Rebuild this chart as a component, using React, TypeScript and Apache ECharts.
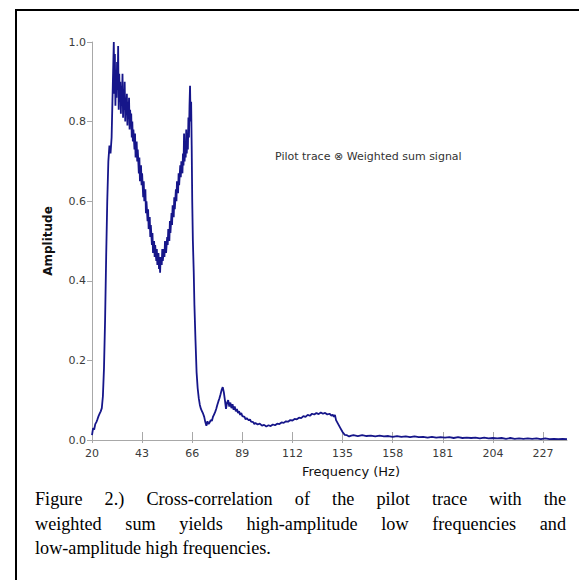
import React, { useEffect, useRef } from "react";
import * as echarts from "echarts";

// Frequency (Hz) / amplitude pairs, per region of the trace
const lowRise: [number, number][] = [
  [20, 0.012], [20.5, 0.03], [21, 0.026], [21.5, 0.04], [22, 0.045], [22.5, 0.052], [23, 0.06],
  [23.5, 0.066], [24, 0.072], [24.5, 0.08], [25, 0.11], [25.5, 0.18], [26, 0.3], [26.5, 0.46],
  [27, 0.6], [27.5, 0.7], [28, 0.74], [28.5, 0.72], [29, 0.76], [29.5, 0.88],
];
const mainPeak: [number, number][] = [
  [30, 1.0], [30.25, 0.87], [30.5, 0.97], [30.75, 0.84], [31, 0.93], [31.25, 0.86], [31.5, 0.95],
  [31.75, 0.88], [32, 0.99], [32.25, 0.83], [32.5, 0.92], [32.75, 0.85], [33, 0.9], [33.25, 0.82],
  [33.5, 0.89], [33.75, 0.84], [34, 0.92], [34.25, 0.81], [34.5, 0.88], [34.75, 0.83], [35, 0.9],
  [35.25, 0.8], [35.5, 0.86], [35.75, 0.82], [36, 0.87], [36.25, 0.79], [36.5, 0.85], [36.75, 0.81],
  [37, 0.86], [37.25, 0.78], [37.5, 0.83], [37.75, 0.79], [38, 0.82], [38.25, 0.76], [38.5, 0.8],
  [38.75, 0.75], [39, 0.78],
];
const trough: [number, number][] = [
  [39.5, 0.73], [39.75, 0.77], [40, 0.71], [40.5, 0.75], [40.75, 0.7], [41, 0.73], [41.5, 0.67],
  [41.75, 0.71], [42, 0.65], [42.5, 0.69], [42.75, 0.64], [43, 0.67], [43.5, 0.61], [43.75, 0.65],
  [44, 0.6], [44.5, 0.63], [44.75, 0.57], [45, 0.6], [45.5, 0.55], [45.75, 0.58], [46, 0.53],
  [46.5, 0.56], [46.75, 0.51], [47, 0.54], [47.5, 0.49], [47.75, 0.52], [48, 0.47], [48.5, 0.5],
  [48.75, 0.46], [49, 0.49], [49.5, 0.45], [49.75, 0.48], [50, 0.44], [50.5, 0.47], [50.75, 0.43],
  [51, 0.46], [51.25, 0.42], [51.5, 0.46], [52, 0.44], [52.25, 0.48], [52.5, 0.45], [53, 0.48],
  [53.25, 0.46], [53.5, 0.5], [54, 0.47], [54.5, 0.51], [54.75, 0.49], [55, 0.53], [55.5, 0.5],
  [55.75, 0.55], [56, 0.52], [56.5, 0.57], [56.75, 0.54], [57, 0.59], [57.5, 0.56], [57.75, 0.61],
  [58, 0.58], [58.5, 0.63], [58.75, 0.6], [59, 0.65], [59.5, 0.62], [59.75, 0.67], [60, 0.64],
  [60.5, 0.69], [60.75, 0.66], [61, 0.7], [61.5, 0.67], [61.75, 0.72], [62, 0.69], [62.25, 0.77],
  [62.5, 0.7], [62.75, 0.74], [63, 0.71], [63.25, 0.78], [63.5, 0.72], [63.75, 0.77], [64, 0.73],
  [64.25, 0.81], [64.5, 0.76], [64.75, 0.84], [65, 0.89], [65.25, 0.8], [65.5, 0.85], [65.75, 0.74],
  [66, 0.6],
];
const sideLobe: [number, number][] = [
  [66.3, 0.5], [66.7, 0.42], [67, 0.34], [67.5, 0.25], [68, 0.17], [68.5, 0.13], [69, 0.105],
  [69.5, 0.088], [70, 0.078], [70.5, 0.072], [71, 0.066], [71.5, 0.058], [72, 0.045], [72.5, 0.036],
  [73, 0.047], [73.5, 0.04], [74, 0.044], [74.5, 0.05], [75, 0.048], [75.5, 0.058], [76, 0.064],
  [76.5, 0.07], [77, 0.078], [77.5, 0.088], [78, 0.097], [78.5, 0.105], [79, 0.115], [79.5, 0.126],
  [80, 0.133], [80.5, 0.12], [81, 0.1], [81.5, 0.078], [82, 0.094], [82.5, 0.1], [83, 0.084],
  [83.5, 0.094], [84, 0.08], [84.5, 0.09], [85, 0.076], [85.5, 0.084], [86, 0.072], [86.5, 0.078],
  [87, 0.068], [87.5, 0.072], [88, 0.063], [88.5, 0.068], [89, 0.06], [90, 0.058], [90.5, 0.052],
  [91, 0.055], [92, 0.049], [92.5, 0.052], [93, 0.046], [94, 0.045], [94.5, 0.04], [95, 0.043],
  [96, 0.039], [97, 0.041], [98, 0.036], [99, 0.038], [100, 0.034],
];
const hump: [number, number][] = [
  [101, 0.037], [102, 0.035], [103, 0.039], [104, 0.037], [105, 0.041], [106, 0.04], [107, 0.044],
  [108, 0.043], [109, 0.047], [110, 0.046], [111, 0.05], [112, 0.049], [113, 0.053], [114, 0.052],
  [115, 0.056], [116, 0.055], [117, 0.06], [118, 0.058], [119, 0.063], [120, 0.061], [121, 0.066],
  [122, 0.064], [123, 0.068], [124, 0.065], [125, 0.069], [126, 0.066], [127, 0.068], [128, 0.064],
  [129, 0.066], [130, 0.061], [130.5, 0.064], [131, 0.058], [131.5, 0.063], [132, 0.05], [133, 0.04],
  [134, 0.03], [135, 0.02], [136, 0.013], [137, 0.012], [138, 0.009], [139, 0.011],
];
const tail: [number, number][] = [
  [140, 0.012], [142, 0.01], [144, 0.012], [146, 0.01], [148, 0.011], [150, 0.009], [152, 0.011],
  [154, 0.009], [156, 0.01], [158, 0.008], [160, 0.01], [162, 0.008], [164, 0.009], [166, 0.007],
  [168, 0.009], [170, 0.007], [172, 0.008], [174, 0.006], [176, 0.008], [178, 0.006], [180, 0.007],
  [182, 0.006], [184, 0.007], [186, 0.005], [188, 0.007], [190, 0.005], [192, 0.006], [194, 0.005],
  [196, 0.006], [198, 0.004], [200, 0.006], [202, 0.004], [204, 0.005], [206, 0.004], [208, 0.005],
  [210, 0.003], [212, 0.005], [214, 0.003], [216, 0.004], [218, 0.003], [220, 0.004], [222, 0.003],
  [224, 0.004], [226, 0.002], [228, 0.004], [230, 0.002], [232, 0.003], [234, 0.002], [236, 0.003],
  [238, 0.002],
];

const xTicks = [20, 43, 66, 89, 112, 135, 158, 181, 204, 227];
const yTicks = [0, 0.2, 0.4, 0.6, 0.8, 1.0];
const seriesLabel = "Pilot trace \u2297 Weighted sum signal";
const xName = "Frequency (Hz)";
const yName = "Amplitude";
const captionLines = [
  "Figure 2.) Cross-correlation of the pilot trace with the",
  "weighted sum yields high-amplitude low frequencies and",
  "low-amplitude high frequencies.",
];

const SANS = "'DejaVu Sans', Verdana, sans-serif";
const SERIF = "'Liberation Serif', 'Times New Roman', serif";

function captionGraphics(): any[] {
  const fontSize = 18.2;
  const left = 35;
  const right = 566;
  const baselines = [508, 532.5, 557];
  const canvas = document.createElement("canvas");
  const ctx = canvas.getContext("2d")!;
  ctx.font = `${fontSize}px ${SERIF}`;
  const out: any[] = [];
  captionLines.forEach((line, li) => {
    const words = line.split(" ");
    const widths = words.map((w) => ctx.measureText(w).width);
    const total = widths.reduce((a, b) => a + b, 0);
    const last = li === captionLines.length - 1;
    const gap = last ? ctx.measureText(" ").width : (right - left - total) / (words.length - 1);
    let x = left;
    words.forEach((w, i) => {
      out.push({
        type: "text",
        x,
        y: baselines[li],
        style: {
          text: w,
          font: `${fontSize}px ${SERIF}`,
          fill: "#000",
          textAlign: "left",
          textVerticalAlign: "bottom",
        },
      });
      x += widths[i] + gap;
    });
  });
  return out;
}

export default function App() {
  const ref = useRef<HTMLDivElement>(null);
  useEffect(() => {
    if (!ref.current) return;
    const chart = echarts.init(ref.current, undefined, { renderer: "svg" });
    const data = [...lowRise, ...mainPeak, ...trough, ...sideLobe, ...hump, ...tail];
    const axisColor = "#a8a8a8";
    const labelColor = "#3a3a3a";
    chart.setOption({
      animation: false,
      backgroundColor: "#fff",
      grid: { left: 92, top: 42, right: 12, bottom: 140, containLabel: false },
      xAxis: [
        {
          type: "value",
          min: 20,
          max: 238,
          axisLine: { show: true, lineStyle: { color: axisColor, width: 1 } },
          axisTick: { show: true, inside: true, length: 8, customValues: xTicks, lineStyle: { color: axisColor } },
          axisLabel: {
            customValues: xTicks,
            margin: 8,
            color: labelColor,
            fontFamily: SANS,
            fontSize: 11,
          },
          splitLine: { show: false },
        },
        {
          type: "value",
          min: 20,
          max: 238,
          position: "bottom",
          offset: 0,
          axisLine: { show: false },
          axisTick: { show: true, inside: false, length: 3, customValues: xTicks, lineStyle: { color: axisColor } },
          axisLabel: { show: false },
          splitLine: { show: false },
        },
      ],
      yAxis: {
        type: "value",
        min: 0,
        max: 1,
        axisLine: { show: true, lineStyle: { color: axisColor, width: 1 } },
        axisTick: { show: true, inside: false, length: 5, customValues: yTicks, lineStyle: { color: axisColor } },
        axisLabel: {
          customValues: yTicks,
          margin: 6,
          color: labelColor,
          fontFamily: SANS,
          fontSize: 11,
          formatter: (v: number) => v.toFixed(1),
        },
        splitLine: { show: false },
      },
      series: [
        {
          type: "line",
          data,
          showSymbol: false,
          symbol: "none",
          lineStyle: { color: "#16168a", width: 1.8 },
          xAxisIndex: 0,
          yAxisIndex: 0,
        },
      ],
      graphic: [
        {
          type: "rect",
          shape: { x: 16, y: 10, width: 620, height: 620 },
          style: { fill: "none", stroke: "#000", lineWidth: 2 },
          silent: true,
        },
        {
          type: "text",
          x: 275,
          y: 156,
          style: { text: seriesLabel, font: `11px ${SANS}`, fill: "#333", textAlign: "left", textVerticalAlign: "middle" },
        },
        {
          type: "text",
          x: 351,
          y: 471,
          style: { text: xName, font: `13px ${SANS}`, fill: "#111", textAlign: "center", textVerticalAlign: "middle" },
        },
        {
          type: "text",
          x: 48,
          y: 241,
          rotation: Math.PI / 2,
          style: { text: yName, font: `bold 12px ${SANS}`, fill: "#111", textAlign: "center", textVerticalAlign: "middle" },
        },
        ...captionGraphics(),
      ],
    });
    return () => chart.dispose();
  }, []);
  return (
    <div
      ref={ref}
      style={{ position: "fixed", left: 0, top: 0, width: 579, height: 580, background: "#fff" }}
    />
  );
}
